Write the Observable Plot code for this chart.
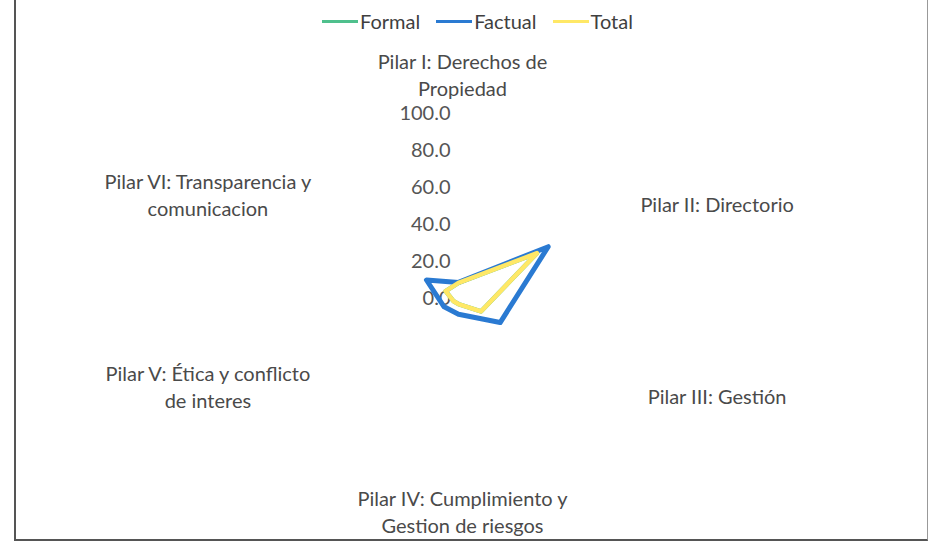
<!DOCTYPE html>
<html>
<head>
<meta charset="utf-8">
<script src="https://cdn.jsdelivr.net/npm/d3@7"></script>
<script src="https://cdn.jsdelivr.net/npm/@observablehq/plot@0.6"></script>
<style>
  html, body { margin: 0; padding: 0; background: #fff; }
  #wrap { position: relative; width: 928px; height: 555px; overflow: hidden; font-family: Lato, "Open Sans", sans-serif; }
  #legend { position: absolute; left: 322px; top: 9px; display: flex; align-items: center; gap: 0; font-size: 20px; color: #3f3f3f; z-index: 2; }
  #legend .item { display: flex; align-items: center; margin-right: 16px; }
  #legend .sw { width: 36px; height: 3px; margin-right: 2px; }
  #border { position: absolute; left: 14px; top: -4px; width: 911px; height: 543px; border-left: 2px solid #555; border-bottom: 2px solid #555; border-right: 1px solid #999; pointer-events: none; }
</style>
</head>
<body>
<div id="wrap">
  <div id="legend"></div>
  <div id="chart"></div>
  <div id="border"></div>
</div>
<script>
// ---- data ----
const pilares = [
  "Pilar I: Derechos de\nPropiedad",
  "Pilar II: Directorio",
  "Pilar III: Gestión",
  "Pilar IV: Cumplimiento y\nGestion de riesgos",
  "Pilar V: Ética y conflicto\nde interes",
  "Pilar VI: Transparencia y\ncomunicacion"
];
const seriesNames = ["Formal", "Factual", "Total"];
const formal  = [8.5, 49, 14, 3, 3, 8];
const factual = [8.7, 56, 26, 8.5, 9, 20];
const total   = [8.5, 49, 14, 3, 3, 8];
const radialTicks = [0, 20, 40, 60, 80, 100];
const colors = { Formal: "#4FC08D", Factual: "#2A7AD2", Total: "#FFE866" };
const widths = { Formal: 4.5, Factual: 5, Total: 4.5 };

// ---- layout constants ----
const W = 928, H = 555;
const cx = 458, cy = 298;     // pixel centre of radar
const s = 1.85;               // pixels per unit
const labelRx = 294 / s, labelRy = 192 / s;

const angle = i => (i * 2 * Math.PI) / pilares.length;

const seriesValues = { Formal: formal, Factual: factual, Total: total };
const rows = [];
for (const name of seriesNames) {
  seriesValues[name].forEach((v, i) => {
    rows.push({ series: name, i, value: v, x: v * Math.sin(angle(i)), y: v * Math.cos(angle(i)) });
  });
}
const labels = pilares.map((t, i) => ({
  text: t, i,
  x: labelRx * Math.sin(angle(i)),
  y: labelRy * Math.cos(angle(i)),
  c: Math.round(Math.cos(angle(i)) * 1000) / 1000,
  sn: Math.round(Math.sin(angle(i)) * 1000) / 1000
}));

const textStyle = { fontSize: 20, fill: "#4a4a4a", lineHeight: 1.35, dx: 4 };

const chart = Plot.plot({
  width: W, height: H, margin: 0,
  style: { fontFamily: "Lato, 'Open Sans', sans-serif", background: "transparent" },
  x: { domain: [-cx / s, (W - cx) / s], axis: null },
  y: { domain: [-(H - cy) / s, cy / s], axis: null },
  marks: [
    Plot.text(radialTicks, { x: 0, y: d => d, text: d => d.toFixed(1), textAnchor: "end", dx: -8, fontSize: 20, fill: "#555" }),
    ...seriesNames.map(name =>
      Plot.line(rows.filter(r => r.series === name), {
        x: "x", y: "y", curve: "linear-closed",
        stroke: colors[name], strokeWidth: widths[name], strokeLinejoin: "round", strokeLinecap: "round"
      })
    ),
    Plot.text(labels.filter(d => d.c === 1), { x: "x", y: "y", text: "text", lineAnchor: "bottom", dy: -11, ...textStyle }),
    Plot.text(labels.filter(d => d.c === -1), { x: "x", y: "y", text: "text", lineAnchor: "top", dy: -4, ...textStyle }),
    Plot.text(labels.filter(d => Math.abs(d.c) !== 1 && d.sn > 0), { x: "x", y: "y", text: "text", lineAnchor: "middle", dy: 1, ...textStyle }),
    Plot.text(labels.filter(d => Math.abs(d.c) !== 1 && d.sn < 0), { x: "x", y: "y", text: "text", lineAnchor: "middle", dy: -9, ...textStyle })
  ]
});
document.getElementById("chart").appendChild(chart);

// legend
const legend = document.getElementById("legend");
for (const name of seriesNames) {
  const item = document.createElement("div");
  item.className = "item";
  const sw = document.createElement("div");
  sw.className = "sw";
  sw.style.background = colors[name];
  const lab = document.createElement("span");
  lab.textContent = name;
  item.appendChild(sw); item.appendChild(lab);
  legend.appendChild(item);
}
</script>
</body>
</html>
